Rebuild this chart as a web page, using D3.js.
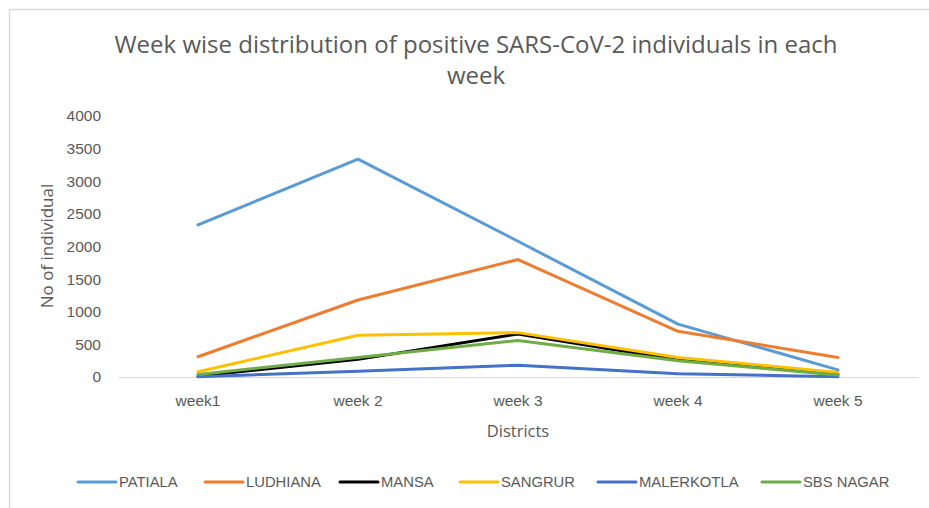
<!DOCTYPE html>
<html>
<head>
<meta charset="utf-8">
<script src="https://cdn.jsdelivr.net/npm/d3@7"></script>
<style>
  body { margin: 0; background: #fff; }
  svg { display: block; font-family: "Open Sans", sans-serif; }
</style>
</head>
<body>
<svg id="chart" width="929" height="508"></svg>
<script>
// Data
const weeks = ["week1", "week 2", "week 3", "week 4", "week 5"];
const districts = ["PATIALA", "LUDHIANA", "MANSA", "SANGRUR", "MALERKOTLA", "SBS NAGAR"];
const patiala = [2330, 3340, 2080, 810, 110];
const ludhiana = [310, 1180, 1800, 700, 300];
const mansa = [15, 270, 660, 260, 40];
const sangrur = [80, 640, 680, 300, 70];
const malerkotla = [5, 90, 180, 50, 5];
const sbsNagar = [40, 300, 560, 250, 30];
const yTicks = [0, 500, 1000, 1500, 2000, 2500, 3000, 3500, 4000];
const colors = ["#5B9BD5", "#ED7D31", "#000000", "#FFC000", "#4472C4", "#70AD47"];

const seriesValues = [patiala, ludhiana, mansa, sangrur, malerkotla, sbsNagar];
const series = districts.map((name, i) => ({ name, values: seriesValues[i], color: colors[i] }));

const svg = d3.select("#chart");
const width = 929, height = 508;
const margin = { top: 116, right: 11, bottom: 131, left: 118 };
const innerWidth = width - margin.left - margin.right;
const innerHeight = height - margin.top - margin.bottom;

// chart frame (only the top and left edges are visible)
svg.append("path")
  .attr("d", `M9.5,${height}V9.5H${width}`)
  .attr("fill", "none")
  .attr("stroke", "#d9d9d9")
  .attr("stroke-width", 1.5);

const g = svg.append("g")
  .attr("transform", `translate(${margin.left},${margin.top})`);

const x = d3.scaleBand().domain(weeks).range([0, innerWidth]);
const y = d3.scaleLinear().domain([0, 4000]).range([innerHeight, 0]);

// y axis (labels only)
const yAxis = g.append("g")
  .call(d3.axisLeft(y).tickValues(yTicks).tickFormat(d3.format("d")).tickSize(0).tickPadding(17));
yAxis.select(".domain").remove();
yAxis.selectAll("text")
  .attr("fill", "#595959")
  .attr("font-size", 15.5);

// x axis
const xAxis = g.append("g")
  .attr("transform", `translate(0,${innerHeight})`)
  .call(d3.axisBottom(x).tickSize(0).tickPadding(18));
xAxis.select(".domain").attr("stroke", "#d9d9d9").attr("stroke-width", 1);
xAxis.selectAll("text")
  .attr("fill", "#595959")
  .attr("font-size", 15.5);

// lines
const line = d3.line()
  .x((d, i) => x(weeks[i]) + x.bandwidth() / 2)
  .y(d => y(d));

g.selectAll("path.series")
  .data(series)
  .join("path")
  .attr("class", "series")
  .attr("d", d => line(d.values))
  .attr("fill", "none")
  .attr("stroke", d => d.color)
  .attr("stroke-width", 3)
  .attr("stroke-linejoin", "round")
  .attr("stroke-linecap", "round");

// title
const title = svg.append("text")
  .attr("text-anchor", "middle")
  .attr("fill", "#595959")
  .attr("font-size", 24);
title.append("tspan").attr("x", 476).attr("y", 53)
  .text("Week wise distribution of positive SARS-CoV-2 individuals in each");
title.append("tspan").attr("x", 476).attr("y", 84).text("week");

// axis titles
svg.append("text")
  .attr("x", margin.left + innerWidth / 2)
  .attr("y", 437)
  .attr("text-anchor", "middle")
  .attr("fill", "#595959")
  .attr("font-size", 16.5)
  .text("Districts");

svg.append("text")
  .attr("transform", "rotate(-90)")
  .attr("x", -246)
  .attr("y", 53)
  .attr("text-anchor", "middle")
  .attr("fill", "#595959")
  .attr("font-size", 17)
  .text("No of individual");

// legend
const legendX = [78, 205, 340, 460, 598, 762];
const legend = svg.append("g").selectAll("g")
  .data(series)
  .join("g")
  .attr("transform", (d, i) => `translate(${legendX[i]},482)`);
legend.append("line")
  .attr("x1", 0).attr("x2", 38)
  .attr("stroke", d => d.color)
  .attr("stroke-width", 3)
  .attr("stroke-linecap", "round");
legend.append("text")
  .attr("x", 41)
  .attr("dy", "0.35em")
  .attr("fill", "#595959")
  .attr("font-size", 14.8)
  .attr("font-family", "'Liberation Sans Narrow', sans-serif")
  .text(d => d.name);
</script>
</body>
</html>
